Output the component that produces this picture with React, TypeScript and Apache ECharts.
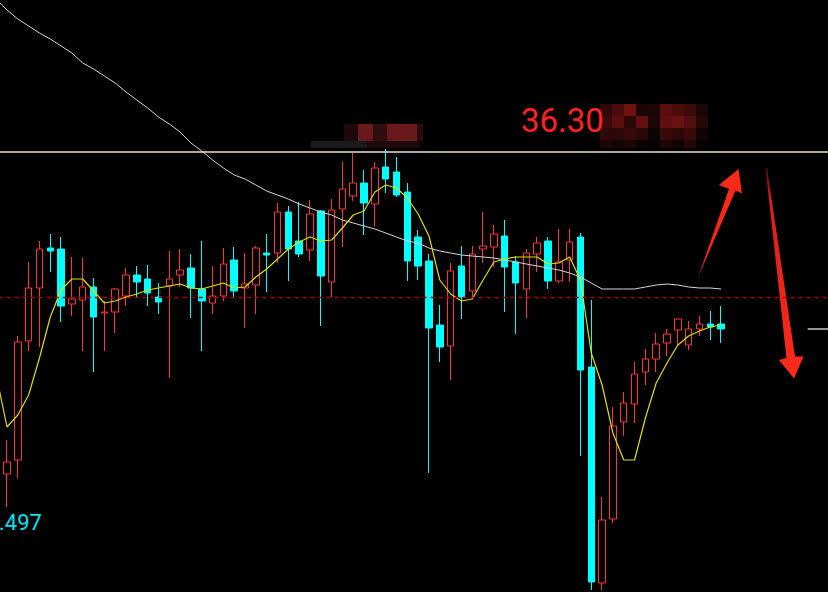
import React, { useEffect, useRef } from "react";
import * as echarts from "echarts";

// OHLC values (index 0 = partly hidden bar at the left edge)
const opens = [
  35.778, 35.656, 35.684, 35.922, 36.028, 36.108, 36.106, 35.996, 36.004, 36.030,
  35.978, 35.980, 36.012, 36.054, 36.046, 36.010, 36.032, 36.054, 36.068, 36.026,
  35.998, 36.012, 36.084, 36.028, 36.034, 36.098, 36.098, 36.180, 36.122, 36.104,
  36.182, 36.040, 36.186, 36.212, 36.238, 36.196, 36.270, 36.260, 36.220, 36.130,
  36.082, 35.954, 35.912, 36.072, 36.022, 36.106, 36.110, 36.132, 36.080, 36.026,
  36.096, 36.122, 36.042, 36.084, 36.130, 35.870, 35.438, 35.566, 35.760, 35.796,
  35.860, 35.886, 35.918, 35.944, 35.914, 35.946, 35.956, 35.956,
];
const closes = [
  35.650, 35.680, 35.920, 36.028, 36.106, 36.102, 35.992, 36.006, 36.030, 35.970,
  35.980, 36.026, 36.054, 36.040, 36.018, 36.000, 36.046, 36.064, 36.028, 36.002,
  36.012, 36.076, 36.022, 36.036, 36.108, 36.094, 36.180, 36.106, 36.096, 36.176,
  36.052, 36.184, 36.226, 36.238, 36.198, 36.268, 36.246, 36.214, 36.082, 36.072,
  35.948, 35.910, 36.062, 36.010, 36.096, 36.112, 36.136, 36.070, 36.038, 36.098,
  36.118, 36.042, 36.080, 36.120, 35.864, 35.440, 35.564, 35.752, 35.798, 35.856,
  35.886, 35.916, 35.936, 35.966, 35.946, 35.956, 35.950, 35.946,
];
const lows = [
  35.640, 35.590, 35.648, 35.902, 35.910, 36.060, 35.960, 35.972, 35.902, 35.860,
  35.902, 35.938, 35.992, 36.008, 35.992, 35.976, 35.848, 36.030, 35.968, 35.902,
  35.976, 36.002, 36.010, 35.948, 35.976, 36.020, 36.078, 36.042, 36.090, 36.082,
  35.952, 36.010, 36.110, 36.202, 36.134, 36.152, 36.218, 36.210, 36.042, 36.044,
  35.658, 35.880, 35.844, 35.966, 36.006, 36.078, 36.070, 35.980, 35.936, 35.968,
  36.060, 36.026, 36.038, 36.040, 35.692, 35.424, 35.424, 35.558, 35.732, 35.758,
  35.834, 35.860, 35.892, 35.914, 35.904, 35.932, 35.924, 35.918,
];
const highs = [
  35.788, 35.724, 35.932, 36.080, 36.122, 36.136, 36.130, 36.090, 36.088, 36.048,
  36.002, 36.028, 36.068, 36.072, 36.074, 36.038, 36.102, 36.106, 36.096, 36.122,
  36.072, 36.108, 36.110, 36.098, 36.112, 36.136, 36.198, 36.192, 36.200, 36.204,
  36.184, 36.206, 36.280, 36.298, 36.264, 36.280, 36.306, 36.290, 36.238, 36.144,
  36.096, 35.994, 36.078, 36.112, 36.112, 36.180, 36.154, 36.164, 36.092, 36.106,
  36.130, 36.130, 36.146, 36.146, 36.138, 36.004, 35.610, 35.790, 35.820, 35.880,
  35.906, 35.938, 35.946, 35.966, 35.962, 35.972, 35.982, 35.992,
];
// short moving average (yellow)
const maFast = [
  35.854, 35.750, 35.774, 35.814, 35.888, 35.970, 36.024, 36.046, 36.046, 36.022,
  35.998, 36.002, 36.010, 36.016, 36.024, 36.028, 36.032, 36.036, 36.028, 36.026,
  36.032, 36.038, 36.028, 36.030, 36.050, 36.066, 36.086, 36.106, 36.120, 36.130,
  36.122, 36.124, 36.148, 36.174, 36.182, 36.220, 36.234, 36.228, 36.208, 36.176,
  36.132, 36.044, 36.016, 36.002, 36.006, 36.044, 36.080, 36.086, 36.090, 36.090,
  36.090, 36.076, 36.078, 36.090, 36.044, 35.898, 35.834, 35.738, 35.684, 35.684,
  35.768, 35.838, 35.878, 35.914, 35.932, 35.942, 35.950, 35.954,
];
// long moving average (white)
const maSlow = [
  36.606, 36.584, 36.566, 36.552, 36.538, 36.526, 36.512, 36.498, 36.478, 36.466,
  36.452, 36.438, 36.420, 36.404, 36.388, 36.370, 36.356, 36.340, 36.318, 36.302,
  36.284, 36.268, 36.254, 36.246, 36.234, 36.222, 36.214, 36.206, 36.196, 36.188,
  36.180, 36.174, 36.164, 36.158, 36.152, 36.146, 36.138, 36.130, 36.122, 36.118,
  36.108, 36.102, 36.098, 36.094, 36.092, 36.090, 36.088, 36.084, 36.080, 36.076,
  36.072, 36.068, 36.064, 36.058, 36.050, 36.038, 36.026, 36.026, 36.026, 36.026,
  36.030, 36.034, 36.036, 36.034, 36.030, 36.028, 36.028, 36.026,
];
const slotCount = 78;
const categories = Array.from({ length: slotCount }, (_, i) => String(i + 1));
const resistance = 36.3;
const referenceLevel = 36.012;
const lastPrice = 35.946;
const priceMin = 35.42;
const priceMax = 36.604;
const bigLabel = "36.30";
const lowLabel = ".497";

const mosaicRight = [
  ["#300a0a", "#4a0c0c", "#701212", "#1a0505", "#1a0606", "#5a0e0e", "#4c0c0c", "#3c0a0a", "#1a0606"],
  ["#3c0a0a", "#5a0e0e", "#2a0808", "#601010", "#1c0606", "#5c1010", "#6a1212", "#501010", "#240808"],
  ["#300808", "#2c0808", "#380a0a", "#2a0808", "#0c0303", "#3a0a0a", "#2e0808", "#3a0a0a", "#120404"],
  ["#1c0505", "#140404", "#1c0606", "#0c0303", "#080202", "#1c0606", "#120404", "#240808", "#080202"],
];

export default function App() {
  const ref = useRef<HTMLDivElement>(null);
  useEffect(() => {
    const chart = echarts.init(ref.current!, null, { renderer: "svg" });
    const candles = opens.map((o, i) => [o, closes[i], lows[i], highs[i]]);

    const graphics: any[] = [];
    mosaicRight.forEach((row, r) =>
      row.forEach((c, k) =>
        graphics.push({
          type: "rect",
          shape: { x: 600 + k * 12, y: 104 + r * 12, width: 12, height: r === 3 ? 8 : 12 },
          style: { fill: c },
          silent: true,
        })
      )
    );
    const topMosaic: [number, number, number, number, string][] = [
      [344, 124, 14, 17, "#1e0808"],
      [358, 124, 15, 17, "#6a1a1a"],
      [373, 124, 14, 17, "#2e0e0e"],
      [387, 124, 30, 17, "#6a1a1a"],
      [417, 124, 6, 17, "#2a0c0c"],
      [311, 141, 56, 7, "#1a1a1a"],
      [367, 141, 53, 7, "#1e0a0a"],
    ];
    topMosaic.forEach(([x, y, w, h, c]) =>
      graphics.push({ type: "rect", shape: { x, y, width: w, height: h }, style: { fill: c }, silent: true })
    );
    graphics.push({
      type: "text",
      x: 521,
      y: 120,
      style: {
        text: bigLabel,
        fill: "#ff2020",
        font: "33px Roboto",
        textVerticalAlign: "middle",
      },
    });
    graphics.push({
      type: "text",
      x: -1,
      y: 522,
      style: {
        text: lowLabel,
        fill: "#00e5ee",
        font: "22px Roboto",
        textVerticalAlign: "middle",
      },
    });
    graphics.push({
      type: "polygon",
      shape: { points: [[697, 280], [729, 189], [719, 185], [738.5, 169], [742, 193.5], [735.5, 190.5]] },
      style: {
        fill: new echarts.graphic.LinearGradient(0, 0, 0, 1, [
          { offset: 0, color: "#ff2a1a" },
          { offset: 0.8, color: "#f02418" },
          { offset: 1, color: "#7a1010" },
        ]),
      },
      silent: true,
    });
    graphics.push({
      type: "polygon",
      shape: { points: [[765.5, 168], [767, 168], [795, 356.5], [803.5, 356.5], [794, 378.5], [779, 360], [786.5, 358]] },
      style: {
        fill: new echarts.graphic.LinearGradient(0, 0, 0, 1, [
          { offset: 0, color: "#5a0a0a" },
          { offset: 0.15, color: "#d82018" },
          { offset: 1, color: "#ff2a1a" },
        ]),
      },
      silent: true,
    });

    chart.setOption({
      animation: false,
      backgroundColor: "#000000",
      grid: {
        left: -9.23,
        width: 843.96,
        top: 0,
        height: 592,
        containLabel: false,
        outerBoundsMode: "none",
      },
      xAxis: {
        type: "category",
        data: categories,
        boundaryGap: true,
        show: false,
      },
      yAxis: {
        type: "value",
        min: priceMin,
        max: priceMax,
        scale: true,
        show: false,
        splitLine: { show: false },
      },
      tooltip: { show: false },
      series: [
        {
          type: "candlestick",
          data: candles,
          barWidth: 7,
          itemStyle: {
            color: "#000000",
            color0: "#00ffff",
            borderColor: "#ff3434",
            borderColor0: "#00ffff",
            borderWidth: 1,
          },
          markLine: {
            silent: true,
            symbol: ["none", "none"],
            label: { show: false },
            animation: false,
            data: [
              { yAxis: resistance, lineStyle: { color: "#e8e2d8", width: 1.5, type: "solid" } },
              { yAxis: referenceLevel, lineStyle: { color: "#b00000", width: 1.4, type: [4, 4] } },
              [
                { coord: [75, lastPrice], lineStyle: { color: "#c8c8c8", width: 1.5, type: "solid" } },
                { coord: [77, lastPrice], lineStyle: { color: "#c8c8c8", width: 1.5, type: "solid" } },
              ],
            ],
          },
        },
        {
          type: "line",
          data: maSlow,
          showSymbol: false,
          symbol: "none",
          lineStyle: { color: "#d8d8d8", width: 1 },
          silent: true,
        },
        {
          type: "line",
          data: maFast,
          showSymbol: false,
          symbol: "none",
          lineStyle: { color: "#e0e000", width: 1.2 },
          silent: true,
        },
      ],
      graphic: graphics,
    });
    return () => chart.dispose();
  }, []);
  return (
    <div
      ref={ref}
      style={{ position: "absolute", left: 0, top: 0, width: 828, height: 592, background: "#000" }}
    />
  );
}
